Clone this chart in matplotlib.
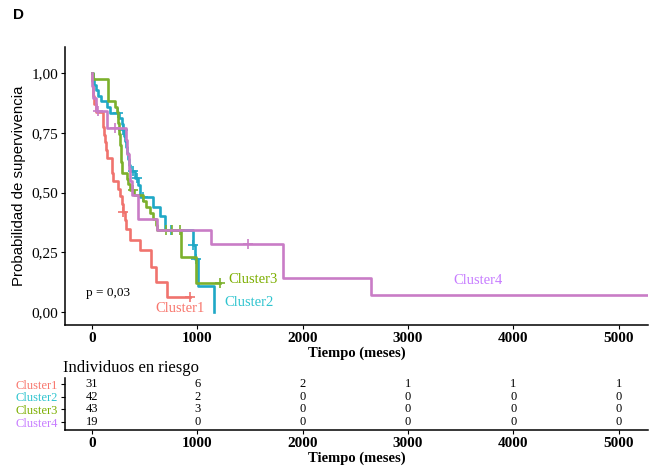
import numpy as np
import matplotlib.pyplot as plt

# Datos (tiempo en meses, supervivencia)
grupos = ["Cluster1", "Cluster2", "Cluster3", "Cluster4"]

c1_t = [0, 3, 6, 10, 20, 35, 102, 106, 112, 120, 130, 140, 186, 190, 195, 250, 265, 280, 290,
        313, 318, 360, 455, 556, 612, 711]
c1_s = [1.0, 0.968, 0.935, 0.903, 0.871, 0.839, 0.806, 0.774, 0.742, 0.710, 0.677, 0.645, 0.613,
        0.581, 0.548, 0.516, 0.484, 0.452, 0.419, 0.384, 0.349, 0.30, 0.26, 0.19, 0.125, 0.063]
c1_fin = 930
c1_cens_t = [296, 930]
c1_cens_s = [0.419, 0.063]

c2_t = [0, 5, 20, 40, 60, 90, 140, 175, 260, 280, 290, 300, 310, 320, 330, 340, 350, 365,
        405, 440, 455, 580, 645, 690, 955, 975, 1010, 1160]
c2_s = [1.0, 0.976, 0.952, 0.929, 0.905, 0.881, 0.857, 0.833, 0.81, 0.786, 0.762, 0.738, 0.714,
        0.69, 0.665, 0.64, 0.615, 0.59, 0.56, 0.53, 0.48, 0.44, 0.40, 0.343, 0.28, 0.22, 0.11, 0.0]
c2_fin = 1160
c2_cens_t = [247, 294, 390, 427, 484, 750, 960, 985]
c2_cens_s = [0.833, 0.762, 0.59, 0.56, 0.48, 0.343, 0.28, 0.22]

c3_t = [0, 10, 155, 220, 237, 245, 250, 255, 260, 265, 268, 271, 274, 277, 280, 283, 330, 345,
        360, 400, 480, 510, 550, 580, 610, 620, 840, 985]
c3_s = [1.0, 0.977, 0.884, 0.86, 0.837, 0.814, 0.791, 0.767, 0.744, 0.721, 0.698, 0.674, 0.651,
        0.628, 0.605, 0.581, 0.558, 0.535, 0.51, 0.49, 0.465, 0.44, 0.415, 0.39, 0.365, 0.343,
        0.23, 0.12]
c3_fin = 1213
c3_cens_t = [390, 700, 760, 835, 1213]
c3_cens_s = [0.51, 0.343, 0.343, 0.343, 0.12]

c4_t = [0, 3, 8, 35, 145, 322, 335, 350, 365, 380, 440, 613, 1130, 1814, 2645]
c4_s = [1.0, 0.947, 0.895, 0.842, 0.77, 0.72, 0.66, 0.60, 0.55, 0.49, 0.39, 0.343, 0.285,
        0.142, 0.071]
c4_fin = 5300
c4_cens_t = [57, 218, 1480]
c4_cens_s = [0.842, 0.77, 0.285]

# Tabla de individuos en riesgo
t_riesgo = [0, 1000, 2000, 3000, 4000, 5000]
riesgo = [[31, 6, 2, 1, 1, 1],
          [42, 2, 0, 0, 0, 0],
          [43, 3, 0, 0, 0, 0],
          [19, 0, 0, 0, 0, 0]]

col_linea = ['#F0736E', '#1FA8C6', '#7CB02C', '#C97CC6']
col_texto = ['#F8766D', '#2EC4CF', '#7CAE00', '#C77CFF']

plt.rcParams['font.family'] = ['Liberation Serif', 'DejaVu Serif']

fig = plt.figure(figsize=(6.49, 4.68), dpi=100)
ax = fig.add_axes([0.1002, 0.3056, 0.898, 0.594])

curvas = [(c1_t, c1_s, c1_fin, c1_cens_t, c1_cens_s),
          (c2_t, c2_s, c2_fin, c2_cens_t, c2_cens_s),
          (c3_t, c3_s, c3_fin, c3_cens_t, c3_cens_s),
          (c4_t, c4_s, c4_fin, c4_cens_t, c4_cens_s)]

for (t, s, fin, ct, cs), col in zip(curvas, col_linea):
    tt = np.append(t, fin)
    ss = np.append(s, s[-1])
    ax.step(tt, ss, where='post', color=col, lw=1.9)
    ax.plot(ct, cs, '+', color=col, ms=7, mew=1.2)

ax.set_xlim(-256, 5275)
ax.set_ylim(-0.054, 1.109)
ax.set_yticks([0, 0.25, 0.5, 0.75, 1.0])
ax.set_yticklabels(['0,00', '0,25', '0,50', '0,75', '1,00'], fontsize=11)
ax.set_xticks(t_riesgo)
ax.set_xticklabels([str(v) for v in t_riesgo], fontsize=11, fontweight='bold')
ax.tick_params(direction='out', length=3, width=0.8, pad=2)
for lado in ['top', 'right']:
    ax.spines[lado].set_visible(False)
for lado in ['left', 'bottom']:
    ax.spines[lado].set_linewidth(1.1)
ax.set_xlabel('Tiempo (meses)', fontsize=10.5, fontweight='bold', labelpad=1)
ax.set_ylabel('Probabilidad de supervivencia', fontsize=10.8,
              family=['Liberation Sans', 'DejaVu Sans'], labelpad=4)

ax.text(-57, 0.08, 'p = 0,03', fontsize=9.5, va='center', ha='left')
ax.text(598, 0.017, 'Cluster1', color=col_texto[0], fontsize=10.5, va='center')
ax.text(1252, 0.038, 'Cluster2', color=col_texto[1], fontsize=10.5, va='center')
ax.text(1293, 0.138, 'Cluster3', color=col_texto[2], fontsize=10.5, va='center')
ax.text(3425, 0.134, 'Cluster4', color=col_texto[3], fontsize=10.5, va='center')

fig.text(0.0285, 0.968, 'D', fontsize=11, fontweight='bold',
         family=['Liberation Sans', 'DejaVu Sans'], ha='center', va='center')

# Tabla de riesgo
tax = fig.add_axes([0.1002, 0.0812, 0.898, 0.111])
tax.set_xlim(-256, 5275)
tax.set_ylim(0.37, 4.47)
filas = [4, 3, 2, 1]
for fila, valores in zip(filas, riesgo):
    for t, v in zip(t_riesgo, valores):
        tax.text(t, fila, str(v), ha='center', va='center', fontsize=9)
tax.set_yticks(filas)
tax.set_yticklabels(grupos, fontsize=9)
for lbl, col in zip(tax.get_yticklabels(), col_texto):
    lbl.set_color(col)
tax.set_xticks(t_riesgo)
tax.set_xticklabels([str(v) for v in t_riesgo], fontsize=11, fontweight='bold')
tax.tick_params(direction='out', length=3, width=0.8, pad=2)
for lado in ['top', 'right']:
    tax.spines[lado].set_visible(False)
for lado in ['left', 'bottom']:
    tax.spines[lado].set_linewidth(1.1)
tax.set_xlabel('Tiempo (meses)', fontsize=10.5, fontweight='bold', labelpad=1)
fig.text(0.097, 0.214, 'Individuos en riesgo', fontsize=12, ha='left', va='center')

fig.savefig('out.png', dpi=100)
